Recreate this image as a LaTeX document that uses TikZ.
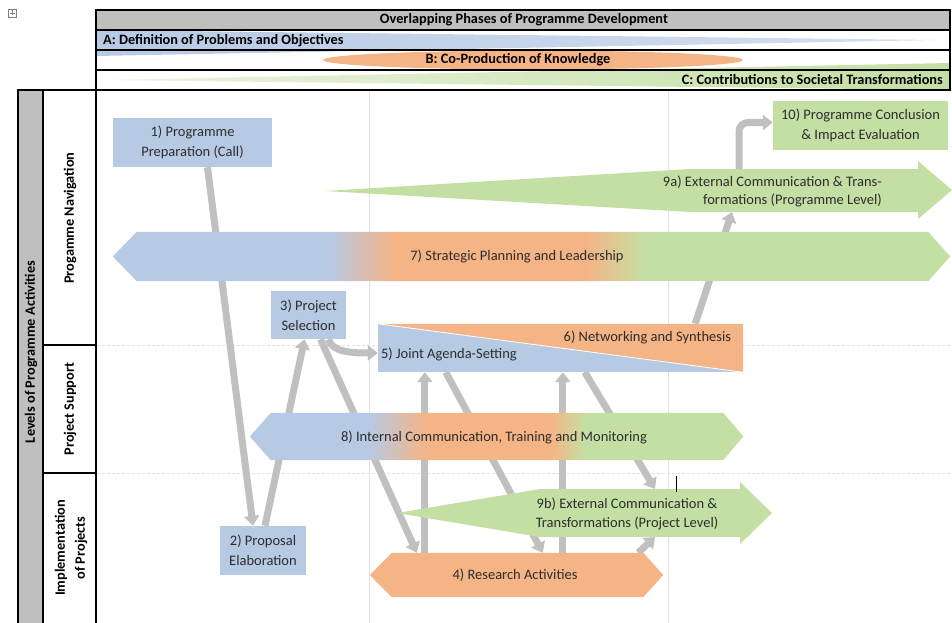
\documentclass[tikz,border=0pt]{standalone}
\usepackage{fontspec}
\setmainfont{Carlito}
\usetikzlibrary{arrows.meta,calc}
\definecolor{cblue}{RGB}{183,202,228}
\definecolor{corange}{RGB}{245,180,133}
\definecolor{cgreen}{RGB}{196,223,164}
\definecolor{cgray}{RGB}{191,191,191}
\definecolor{carrow}{RGB}{192,192,192}
\definecolor{ctext}{RGB}{45,45,45}
\definecolor{cgrid}{RGB}{226,226,226}
\pgfdeclarehorizontalshading{sevenshade}{100bp}{color(0bp)=(cblue); color(38bp)=(cblue); color(41.8bp)=(corange); color(53.2bp)=(corange); color(56.8bp)=(cgreen); color(100bp)=(cgreen)}
\pgfdeclarehorizontalshading{eightshade}{100bp}{color(0bp)=(cblue); color(37bp)=(cblue); color(43bp)=(corange); color(55.4bp)=(corange); color(59bp)=(cgreen); color(100bp)=(cgreen)}
\pgfdeclarelayer{gridlayer}
\pgfdeclarelayer{arrowlayer}
\pgfdeclarelayer{shapelayer}
\pgfsetlayers{gridlayer,arrowlayer,shapelayer,main}
\begin{document}
\begin{tikzpicture}[x=1pt,y=-1pt,
  tablel/.style={draw=black,line width=1.3pt},
  hdr/.style={font=\bfseries\fontsize{14.3}{16}\selectfont,text=black,inner sep=0pt},
  side/.style={font=\bfseries\fontsize{14.3}{20}\selectfont,text=black,inner sep=0pt,align=center},
  lbl/.style={font=\fontsize{14.5}{20}\selectfont,text=ctext,align=center,inner sep=0pt},
  boxb/.style={lbl,fill=cblue,draw=none},
  boxg/.style={lbl,fill=cgreen,draw=none},
  conn/.style={draw=carrow,line width=7pt,-{Triangle[width=15pt,length=10pt]}},
]
\useasboundingbox (0,0) rectangle (952,623);

% move handle icon
\node[draw=gray,line width=0.6pt,minimum size=8pt,inner sep=0pt] (icon) at (12,13) {};
\draw[gray,line width=0.6pt] ($(icon.center)+(0,-2.5)$) -- ($(icon.center)+(0,2.5)$)
  ($(icon.center)+(-2.5,0)$) -- ($(icon.center)+(2.5,0)$);

% ---------- header ----------
\fill[cgray] (96,10) rectangle (950,30);
\shade[left color=cblue,right color=cblue!60] (96,30) -- (937,40) -- (96,56) -- cycle;
\fill[corange] (533,60) ellipse [x radius=210pt, y radius=9.5pt];
\shade[left color=cgreen!35,right color=cgreen] (105,80) -- (950,63) -- (950,90) -- cycle;
\draw[tablel] (96,10) rectangle (950,90);
\draw[tablel] (96,30) -- (950,30) (96,50) -- (950,50) (96,70) -- (950,70);
\node[hdr] (h0) at (524,20) {Overlapping Phases of Programme Development};
\node[hdr,anchor=west] (hA) at (103,41) {A: Definition of Problems and Objectives};
\node[hdr] (hB) at (518,60) {B: Co-Production of Knowledge};
\node[hdr,anchor=east] (hC) at (943,80) {C: Contributions to Societal Transformations};

% ---------- side table ----------
\fill[cgray] (18,90) rectangle (43,623);
\draw[tablel] (18,623) -- (18,90) -- (950,90);
\draw[tablel] (43,90) -- (43,623) (96,10) -- (96,623);
\draw[tablel] (43,345) -- (96,345) (43,473) -- (96,473);
\node[side,rotate=90] (lv) at (31,352) {Levels of Programme Activities};
\node[side,rotate=90] (pn) at (70,218) {Progamme Navigation};
\node[side,rotate=90] (ps) at (70,409) {Project Support};
\node[side,rotate=90] (ip) at (71,548) {Implementation\\of Projects};

% ---------- grid ----------
\begin{pgfonlayer}{gridlayer}
\draw[cgrid,line width=0.8pt] (369,91) -- (369,623) (668,91) -- (668,623);
\draw[cgrid,line width=0.8pt,dash pattern=on 3pt off 2pt] (97,345) -- (950,345) (97,473) -- (950,473);
\end{pgfonlayer}

% ---------- boxes ----------
\node[boxb,minimum width=159pt,minimum height=49pt] (n1) at (192.5,142.5) {1) Programme\\Preparation (Call)};
\node[boxb,minimum width=86pt,minimum height=49pt] (n2) at (263,550.5) {2) Proposal\\Elaboration};
\node[boxb,minimum width=75pt,minimum height=48pt] (n3) at (308.5,315) {3) Project\\Selection};
\node[boxg,minimum width=175pt,minimum height=49pt] (n10) at (860.5,125.5) {10) Programme Conclusion\\\& Impact Evaluation};

% 5/6 box
\node[inner sep=0pt,minimum width=365pt,minimum height=48pt] (n5) at (560.5,348) {};
\begin{pgfonlayer}{shapelayer}
\fill[cblue] (n5.north west) rectangle (n5.south east);
\fill[corange] (n5.north west) -- (n5.north east) -- (n5.south east) -- cycle;
\draw[white,line width=0.8pt] (n5.north west) -- (n5.south east);
\end{pgfonlayer}
\node[lbl,anchor=west] (l5) at ($(n5.west)+(3,6)$) {5) Joint Agenda-Setting};
\node[lbl,anchor=east] (l6) at ($(n5.east)+(-12,-11)$) {6) Networking and Synthesis};

% 7 band
\node[lbl,minimum width=837pt,minimum height=49pt] (n7) at (531.5,256.5) {};
\begin{pgfonlayer}{shapelayer}
\shade[shading=sevenshade] (n7.west) -- ($(n7.north west)+(24,0)$) -- ($(n7.north east)+(-22,0)$) -- (n7.east)
  -- ($(n7.south east)+(-22,0)$) -- ($(n7.south west)+(24,0)$) -- cycle;
\end{pgfonlayer}
\node[lbl] (l7) at (517,256.5) {7) Strategic Planning and Leadership};

% 8 band
\node[lbl,minimum width=493pt,minimum height=47pt] (n8) at (496.5,436.5) {};
\begin{pgfonlayer}{shapelayer}
\shade[shading=eightshade] (n8.west) -- ($(n8.north west)+(21,0)$) -- ($(n8.north east)+(-20,0)$) -- (n8.east)
  -- ($(n8.south east)+(-20,0)$) -- ($(n8.south west)+(21,0)$) -- cycle;
\end{pgfonlayer}
\node[lbl] (l8) at (494,437) {8) Internal Communication, Training and Monitoring};

% 4 band
\node[lbl,minimum width=293pt,minimum height=44pt] (n4) at (516.5,575) {};
\begin{pgfonlayer}{shapelayer}
\fill[corange] (n4.west) -- ($(n4.north west)+(22,0)$) -- ($(n4.north east)+(-20,0)$) -- (n4.east)
  -- ($(n4.south east)+(-20,0)$) -- ($(n4.south west)+(22,0)$) -- cycle;
\end{pgfonlayer}
\node[lbl] (l4) at (515,575) {4) Research Activities};

% 9a and 9b
\begin{pgfonlayer}{shapelayer}
\fill[cgreen] (325,191) -- (690,169) -- (918,169) -- (918,161) -- (952,190) -- (918,219) -- (918,212) -- (690,212) -- cycle;
\fill[cgreen] (397,513) -- (540,489) -- (740,489) -- (740,482) -- (772,513) -- (740,544) -- (740,537) -- (540,537) -- cycle;
\end{pgfonlayer}
\node[lbl,align=right,anchor=east,font=\fontsize{14.5}{18}\selectfont] (l9a) at (882,191) {9a) External Communication \& Trans-\\formations (Programme Level)};
\node[lbl,font=\fontsize{14.5}{19}\selectfont] (l9b) at (627,514) {9b) External Communication \&\\Transformations (Project Level)};
\coordinate (t9a) at (732,212);
\coordinate (s9a) at (739,169);
\coordinate (t9bh) at (655,489);
\coordinate (t9bl) at (655,537);

% cursor mark
\draw[black,line width=0.8pt] (676,476) -- (676,492);

% ---------- connectors ----------
\begin{pgfonlayer}{arrowlayer}
\draw[conn] ($(n1.south)+(15,0)$) -- ($(n2.north)+(-10,0)$);
\draw[conn] ($(n2.north)+(2,0)$) -- ($(n3.south)+(-4,0)$);
\draw[conn] ($(n3.south)+(20,0)$) .. controls +(3,13) and +(-25,0) .. ($(n5.west)+(0,5)$);
\draw[conn] ($(n3.south)+(12,0)$) -- ($(n4.north west)+(47,0)$);
\draw[conn] ($(n4.north west)+(55,0)$) -- ($(n5.south west)+(47,0)$);
\draw[conn] ($(n5.south west)+(68,0)$) -- ($(n4.north west)+(173,0)$);
\draw[conn] ($(n4.north west)+(193,0)$) -- ($(n5.south west)+(185,0)$);
\draw[conn] ($(n5.south west)+(207,0)$) -- (t9bh);
\draw[conn] ($(n4.north east)+(-25,0)$) -- (t9bl);
\draw[conn] ($(n5.north east)+(-48,0)$) -- (t9a);
\draw[conn,rounded corners=9pt] (s9a) |- ($(n10.west)+(0,-3)$);
\end{pgfonlayer}
\end{tikzpicture}
\end{document}
